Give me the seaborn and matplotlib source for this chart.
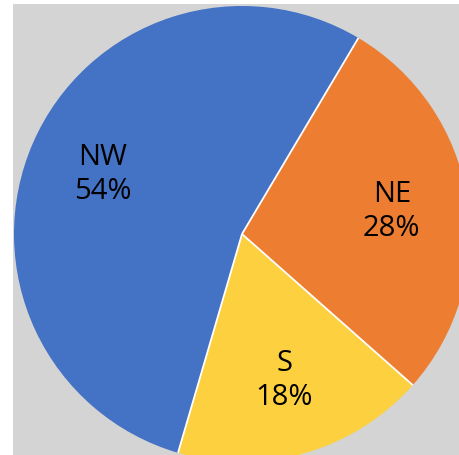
import matplotlib
matplotlib.use("Agg")
import matplotlib.pyplot as plt
import seaborn as sns
import numpy as np
from matplotlib.patches import Rectangle

regions = ["NE", "S", "NW"]
shares = [28, 18, 54]
colors = ["#ED7D31", "#FCD03E", "#4472C4"]

sns.set_style("white")
plt.rcParams['font.family'] = ['Open Sans', 'DejaVu Sans']

W, H = 459, 456
fig = plt.figure(figsize=(W / 100, H / 100), dpi=100)
fig.patch.set_facecolor("white")
fig.patches.append(Rectangle((13 / W, 0), 1, (H - 5) / H, transform=fig.transFigure,
                             facecolor="#D4D4D4", edgecolor="none", zorder=0))

cx, cy, r = 242, 235, 228
ax = fig.add_axes([(cx - r) / W, (H - cy - r) / H, 2 * r / W, 2 * r / H])
ax.set_facecolor("none")
ax.set_zorder(1)

labels = [f"{n}\n{v}%" for n, v in zip(regions, shares)]
wedges, texts = ax.pie(shares, labels=labels, colors=colors, startangle=59.3,
                       counterclock=False, labeldistance=0.665,
                       wedgeprops=dict(edgecolor="none", linewidth=0),
                       textprops=dict(fontsize=21, color="black", linespacing=1.25))
for t in texts:
    t.set_ha("center")
    t.set_va("center")
    t.set_zorder(5)
for w in wedges:
    w.set_clip_on(False)
    a = np.deg2rad(w.theta1)
    ax.plot([0, np.cos(a)], [0, np.sin(a)], color="white", lw=1.3,
            solid_capstyle="butt", clip_on=False, zorder=3)
ax.set_xlim(-1, 1)
ax.set_ylim(-1, 1)
ax.set_aspect("equal")
ax.axis("off")

fig.savefig("out.png", dpi=100)
